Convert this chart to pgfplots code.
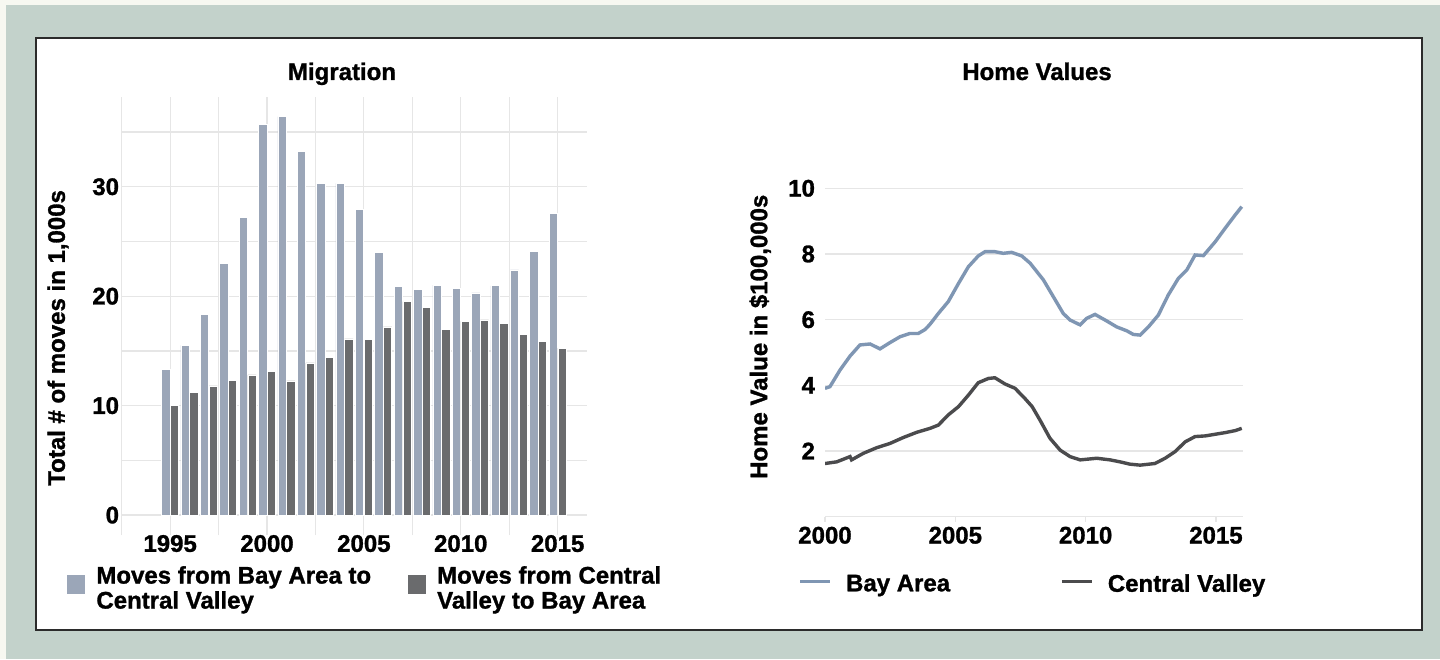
\documentclass[border=0pt]{standalone}
\usepackage{fontspec}
\setmainfont{Liberation Sans}[BoldFeatures={FakeBold=1.2}]
\usepackage{pgfplots}
\pgfplotsset{compat=1.18}

\definecolor{bgout}{HTML}{C3D2CB}
\definecolor{bgedge}{HTML}{F7F8F1}
\definecolor{framec}{HTML}{2B2B2B}
\definecolor{baylight}{HTML}{9BA6B8}
\definecolor{cvdark}{HTML}{6A6B6D}
\definecolor{bayline}{HTML}{7F96B3}
\definecolor{cvline}{HTML}{4B4B4D}
\definecolor{gridc}{HTML}{E6E6E6}

\newcommand{\lbl}{\fontsize{12}{12.5}\selectfont\bfseries}

\pgfplotsset{
  sqleg/.style={legend image code/.code={%
    \path[##1,draw=none] (0pt,-2.5pt) rectangle (9pt,7pt);
    \path[draw=none,fill=none] (0pt,0pt) -- (12.5pt,0pt);}},
  lnleg/.style={legend image code/.code={%
    \draw[##1] (0pt,1.5pt) -- (15pt,1.5pt);
    \path[draw=none,fill=none] (0pt,1.5pt) -- (21pt,1.5pt);}},
  common/.style={
    scale only axis,
    anchor=south west,
    axis line style={draw=none},
    tick label style={font=\lbl, /pgf/number format/assume math mode=true,
      /pgf/number format/set thousands separator={}},
    label style={font=\lbl},
  },
}

\begin{document}
\begin{tikzpicture}
% background and panel
\fill[bgedge] (0pt,0pt) rectangle (720pt,329.5pt);
\fill[bgout] (3pt,0pt) rectangle (720pt,327pt);
\filldraw[fill=white, draw=framec, line width=1.2pt] (18pt,14.5pt) rectangle (711pt,310.5pt);

% ---- Migration ----
\begin{axis}[common,
  at={(60.85pt,62pt)}, width=232.5pt, height=219pt,
  xmin=1992.5, xmax=2016.5, ymin=-1.82, ymax=38.2,
  xtick={1995,2000,2005,2010,2015},
  minor xtick={1992.5,1997.5,2002.5,2007.5,2012.5},
  ytick={0,10,20,30}, minor ytick={5,15,25,35},
  grid=both, major grid style={gridc, line width=0.6pt},
  minor grid style={gridc, line width=0.6pt},
  tick style={draw=none}, major tick length=0pt, minor tick length=0pt,
  yticklabel style={xshift=2.2pt},
  xticklabel style={yshift=3.5pt},
  ylabel={Total \# of moves in 1,000s},
  ylabel style={at={(axis description cs:-0.137,0.45)}, anchor=center},
  ybar, bar width=0.43,
  legend style={at={(axis description cs:-0.1305,-0.052)}, anchor=north west,
    draw=none, fill=none, font=\lbl, legend columns=2,
    cells={align=left, anchor=west},
    /tikz/every even column/.append style={column sep=16.5pt}},
]
\addplot[fill=baylight, draw=white, line width=0.3pt, bar shift=-0.225, sqleg] coordinates {
 (1995,13.3) (1996,15.5) (1997,18.3) (1998,23.0) (1999,27.2) (2000,35.7)
 (2001,36.4) (2002,33.2) (2003,30.3) (2004,30.3) (2005,27.9) (2006,24.0)
 (2007,20.9) (2008,20.6) (2009,21.0) (2010,20.7) (2011,20.3) (2012,20.95)
 (2013,22.4) (2014,24.1) (2015,27.6)};
\addplot[fill=cvdark, draw=white, line width=0.3pt, bar shift=0.225, sqleg] coordinates {
 (1995,10.0) (1996,11.2) (1997,11.8) (1998,12.3) (1999,12.8) (2000,13.1)
 (2001,12.26) (2002,13.9) (2003,14.4) (2004,16.1) (2005,16.07) (2006,17.2)
 (2007,19.5) (2008,19.0) (2009,17.0) (2010,17.7) (2011,17.84) (2012,17.5)
 (2013,16.5) (2014,15.9) (2015,15.25)};
\legend{Moves from Bay Area to\\Central Valley, Moves from Central\\Valley to Bay Area}
\end{axis}

% ---- Home Values ----
\begin{axis}[common,
  at={(412.5pt,71.15pt)}, width=209.15pt, height=164.2pt,
  xmin=2000, xmax=2016.05, ymin=0, ymax=10,
  xtick={2000,2005,2010,2015}, ytick={2,4,6,8,10},
  extra y ticks={0}, extra y tick labels={},
  ymajorgrids, grid style={gridc, line width=0.6pt},
  extra y tick style={grid=major},
  xtick pos=bottom, ytick style={draw=none},
  xtick style={draw=gridc, line width=0.6pt},
  tick align=outside, major tick length=2.5pt,
  yticklabel style={xshift=1pt},
  xticklabel style={yshift=1pt},
  ylabel={Home Value in \$100,000s},
  ylabel style={at={(axis description cs:-0.155,0.548)}, anchor=center},
  legend style={at={(axis description cs:-0.0789,-0.15)}, anchor=north west,
    draw=none, fill=none, font=\lbl, legend columns=2,
    cells={anchor=west},
    /tikz/every even column/.append style={column sep=53pt}},
]
\addplot[bayline, line width=1.7pt, lnleg] coordinates {
 (2000.00,3.91) (2000.19,3.96) (2000.58,4.47) (2000.96,4.89) (2001.34,5.23)
 (2001.73,5.26) (2002.11,5.11) (2002.49,5.30) (2002.88,5.48) (2003.26,5.58)
 (2003.58,5.58) (2003.84,5.70) (2004.03,5.86) (2004.35,6.19) (2004.73,6.55)
 (2005.12,7.10) (2005.50,7.61) (2005.88,7.94) (2006.14,8.07) (2006.52,8.07)
 (2006.84,8.02) (2007.16,8.05) (2007.55,7.94) (2007.87,7.72) (2008.38,7.21)
 (2008.76,6.70) (2009.14,6.19) (2009.40,5.99) (2009.79,5.84) (2010.04,6.04)
 (2010.36,6.16) (2010.81,5.96) (2011.19,5.78) (2011.58,5.66) (2011.83,5.55)
 (2012.09,5.53) (2012.41,5.78) (2012.79,6.14) (2013.17,6.75) (2013.56,7.26)
 (2013.88,7.51) (2014.20,7.97) (2014.52,7.95) (2014.97,8.37) (2015.35,8.78)
 (2015.73,9.18) (2015.99,9.44)};
\addplot[cvline, line width=1.7pt, lnleg] coordinates {
 (2000.00,1.62) (2000.45,1.67) (2000.96,1.83) (2001.02,1.73) (2001.47,1.93)
 (2001.98,2.10) (2002.49,2.23) (2003.00,2.41) (2003.52,2.57) (2004.03,2.69)
 (2004.35,2.79) (2004.73,3.10) (2005.12,3.35) (2005.50,3.70) (2005.88,4.08)
 (2006.27,4.21) (2006.52,4.23) (2006.91,4.04) (2007.29,3.91) (2007.67,3.60)
 (2007.95,3.35) (2008.25,2.94) (2008.63,2.39) (2009.02,2.03) (2009.40,1.83)
 (2009.79,1.73) (2010.43,1.78) (2010.94,1.73) (2011.32,1.67) (2011.70,1.60)
 (2012.09,1.57) (2012.66,1.62) (2013.05,1.78) (2013.43,1.98) (2013.82,2.28)
 (2014.20,2.44) (2014.59,2.46) (2014.97,2.51) (2015.35,2.56) (2015.73,2.62)
 (2015.99,2.69)};
\legend{Bay Area, Central Valley}
\end{axis}

\node[anchor=base, font=\lbl] at (171pt,289.5pt) {Migration};
\node[anchor=base, font=\lbl] at (518.5pt,289.5pt) {Home Values};
\end{tikzpicture}
\end{document}
